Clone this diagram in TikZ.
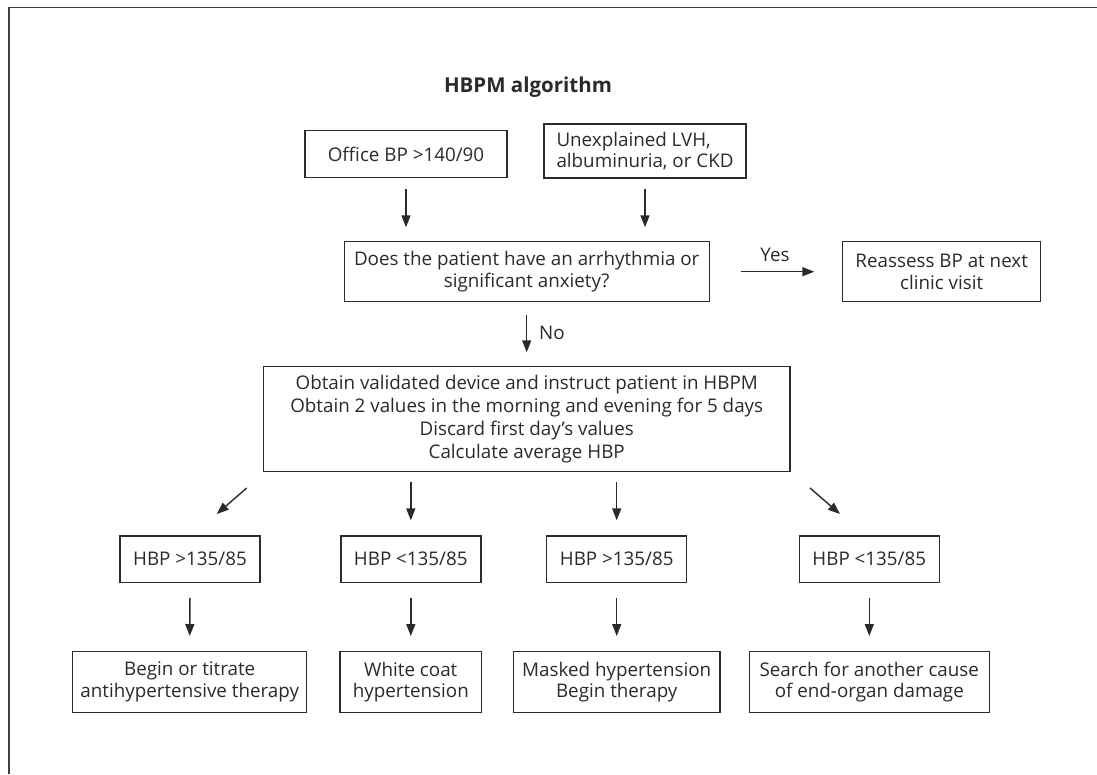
\documentclass[tikz,border=0pt]{standalone}
\usepackage{fontspec}
\setmainfont{Open Sans}
\usetikzlibrary{arrows.meta}
\definecolor{ink}{HTML}{2A2A2A}
\newcommand{\fs}{\fontsize{18.8}{21.7}\selectfont}
\newcommand{\ft}{\fontsize{20.5}{24}\selectfont\bfseries}
\begin{document}
\begin{tikzpicture}[x=1pt,y=-1pt,
  box/.style={draw=ink, line width=1.4pt, inner sep=0pt, align=center, font=\fs, text=ink},
  arr/.style={draw=ink, line width=1.4pt, -{Triangle[length=12pt,width=9pt]}},
  lbl/.style={font=\fs, text=ink, inner sep=0pt}]
\useasboundingbox (0,0) rectangle (1097,774);
% frame
\draw[ink!90, line width=1.6pt] (9,774) -- (9,7.3) -- (1097,7.3);
% title
\node[font=\ft, text=ink] (title) at (528,87) {HBPM algorithm};
% top boxes
\node[box, minimum width=202pt, minimum height=46.6pt] (office) at (406,154) {Office BP >140/90};
\node[box, minimum width=202pt, minimum height=53.7pt, align=left] (unexpl) at (645,151) {Unexplained LVH,\\albuminuria, or CKD};
\node[box, minimum width=365pt, minimum height=60pt] (does) at (526.7,271.7) {Does the patient have an arrhythmia or\\significant anxiety?};
\node[box, minimum width=198pt, minimum height=60pt] (reassess) at (941.7,271.7) {Reassess BP at next\\clinic visit};
\node[box, minimum width=526.7pt, minimum height=105pt, font=\fontsize{18.8}{23}\selectfont] (obtain) at (526.7,419.2) {Obtain validated device and instruct patient in HBPM\\Obtain 2 values in the morning and evening for 5 days\\Discard first day’s values\\Calculate average HBP};
% HBP boxes
\node[box, minimum width=140pt, minimum height=46.3pt] (hbp1) at (190,559.2) {HBP >135/85};
\node[box, minimum width=140pt, minimum height=46.3pt] (hbp2) at (410.8,559.2) {HBP <135/85};
\node[box, minimum width=140pt, minimum height=46.3pt] (hbp3) at (616.7,559.2) {HBP >135/85};
\node[box, minimum width=140pt, minimum height=46.3pt] (hbp4) at (869.3,559.2) {HBP <135/85};
% result boxes
\node[box, minimum width=234pt, minimum height=60.6pt] (res1) at (189.7,682) {Begin or titrate\\antihypertensive therapy};
\node[box, minimum width=141.7pt, minimum height=60.6pt] (res2) at (410.8,682) {White coat\\hypertension};
\node[box, minimum width=206.7pt, minimum height=60.6pt] (res3) at (616.7,682) {Masked hypertension\\Begin therapy};
\node[box, minimum width=240pt, minimum height=60.6pt] (res4) at (869.3,682) {Search for another cause\\of end-organ damage};
% diagonal arrow ends
\coordinate (d1s) at (246.7,488); \coordinate (d1e) at (216.7,514);
\coordinate (d4s) at (810,488); \coordinate (d4e) at (840,514);
% connectors
\draw[arr, shorten <=10.7pt, shorten >=13.7pt] (office) -- (office.center |- does.north);
\draw[arr, shorten <=10.7pt, shorten >=13.7pt] (unexpl) -- (unexpl.center |- does.north);
\draw[arr, shorten <=30.7pt, shorten >=27.7pt] (does.east) -- (reassess.west);
\draw[arr, shorten <=12.3pt, shorten >=13.7pt] (does.south) -- (obtain.north);
\node[lbl] (yes) at (775,255) {Yes};
\node[lbl, anchor=west] (no) at (539,333) {No};
\draw[arr] (d1s) -- (d1e);
\draw[arr, shorten <=10pt, shorten >=15pt] (obtain.south -| hbp2.north) -- (hbp2.north);
\draw[arr, shorten <=10pt, shorten >=15pt] (obtain.south -| hbp3.north) -- (hbp3.north);
\draw[arr] (d4s) -- (d4e);
\foreach \i in {1,2,3,4}{
  \draw[arr, shorten <=14.7pt, shorten >=15pt] (hbp\i.south) -- (res\i.north);
}
\end{tikzpicture}
\end{document}
